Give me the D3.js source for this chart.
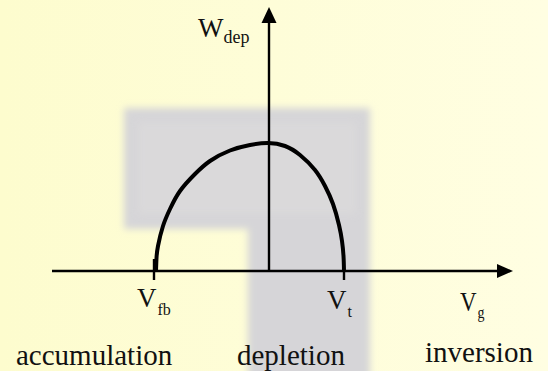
<!DOCTYPE html>
<html>
<head>
<meta charset="utf-8">
<script src="https://cdn.jsdelivr.net/npm/d3@7"></script>
<style>
  html, body { margin: 0; padding: 0; background: #fefdd6; }
  svg { display: block; }
</style>
</head>
<body>
<svg class="wdep" width="548" height="371"></svg>
<script>
// depletion width vs gate voltage (arbitrary units)
var leftVg  = [-11.3, -11.25, -11.1, -10.6, -9.9, -8.9, -7.4, -5.9, -3.9, -1.9, -0.1];
var leftW   = [0, 1.3, 2.5, 4.5, 6.2, 8.0, 9.7, 11.0, 12.05, 12.6, 12.8];
var rightVg = [1.6, 3.1, 4.6, 5.6, 6.4, 7.0, 7.3, 7.45, 7.5];
var rightW  = [12.5, 11.6, 10.1, 8.5, 6.7, 4.6, 3.0, 1.5, 0];

var markNames = ["fb", "t"];
var markVg = [-11.5, 7.5];
var regions = ["accumulation", "depletion", "inversion"];

var vgDomain = [-21.7, 24.4];
var wDomain = [0, 26.4];

var serif = "'Liberation Serif', 'Times New Roman', Times, serif";

var svg = d3.select("svg.wdep")
    .attr("font-family", serif);

// background + faded watermark
var defs = svg.append("defs");
var grad = defs.append("linearGradient").attr("id", "bg");
grad.append("stop").attr("offset", "0%").attr("stop-color", "#fdfcce");
grad.append("stop").attr("offset", "100%").attr("stop-color", "#fffee2");
defs.append("filter").attr("id", "blur")
    .attr("x", "-10%").attr("y", "-10%").attr("width", "120%").attr("height", "120%")
  .append("feGaussianBlur").attr("stdDeviation", 3.5);

svg.append("rect").attr("width", 548).attr("height", 371).attr("fill", "url(#bg)");
svg.append("path")
    .attr("d", "M124,108H370V380H248V229H124Z")
    .attr("fill", "#d6d5d8")
    .attr("filter", "url(#blur)");
svg.append("rect")
    .attr("x", 138).attr("y", 122).attr("width", 218).attr("height", 92)
    .attr("fill", "#dddcdc").attr("opacity", 0.6)
    .attr("filter", "url(#blur)");

// scales
var x = d3.scaleLinear().domain(vgDomain).range([52, 513]);
var y = d3.scaleLinear().domain(wDomain).range([271, 7]);

var pts = leftVg.map(function(v, i) { return [v, leftW[i]]; })
    .concat(rightVg.map(function(v, i) { return [v, rightW[i]]; }));

var line = d3.line()
    .x(function(d) { return x(d[0]); })
    .y(function(d) { return y(d[1]); })
    .curve(d3.curveNatural);

// axes
svg.append("line")
    .attr("x1", x(vgDomain[0])).attr("x2", x(vgDomain[1]) - 14)
    .attr("y1", y(0)).attr("y2", y(0))
    .attr("stroke", "#000").attr("stroke-width", 2.6);
svg.append("line")
    .attr("x1", x(0)).attr("x2", x(0))
    .attr("y1", y(0)).attr("y2", y(wDomain[1]) + 14)
    .attr("stroke", "#000").attr("stroke-width", 2.4);

// arrow heads
var xt = x(vgDomain[1]), yt = y(wDomain[1]);
svg.append("path")
    .attr("d", "M" + xt + "," + y(0) + "L" + (xt - 16) + "," + (y(0) - 7) + "L" + (xt - 16) + "," + (y(0) + 7) + "Z")
    .attr("fill", "#000");
svg.append("path")
    .attr("d", "M" + x(0) + "," + yt + "L" + (x(0) - 7.5) + "," + (yt + 16) + "L" + (x(0) + 7.5) + "," + (yt + 16) + "Z")
    .attr("fill", "#000");

// ticks at Vfb and Vt
svg.selectAll("line.tick")
    .data(markVg)
  .enter().append("line")
    .attr("class", "tick")
    .attr("x1", function(d) { return x(d); })
    .attr("x2", function(d) { return x(d); })
    .attr("y1", function(d, i) { return i == 0 ? y(0) - 12 : y(0); })
    .attr("y2", y(0) + 9)
    .attr("stroke", "#000").attr("stroke-width", 2.4);

// the curve
svg.append("path")
    .datum(pts)
    .attr("d", line)
    .attr("fill", "none")
    .attr("stroke", "#000")
    .attr("stroke-width", 4)
    .attr("stroke-linejoin", "round");

// V labels under the ticks
markNames.forEach(function(n, i) {
    var t = svg.append("text")
        .attr("x", x(markVg[i]) - 17)
        .attr("y", y(0) + 36 + i * 2)
        .attr("fill", "#111")
        .style("font-family", serif)
        .style("font-size", "27px");
    t.append("tspan").text("V");
    t.append("tspan").attr("dy", 8).attr("dx", 1).style("font-size", "16px").text(n);
});

// Vg label
var vg = svg.append("text")
    .attr("transform", "translate(460," + (y(0) + 40) + ") scale(0.82,1)")
    .attr("fill", "#111")
    .style("font-family", serif)
    .style("font-size", "28px");
vg.append("tspan").text("V");
vg.append("tspan").attr("dy", 7).attr("dx", 1).style("font-size", "17px").text("g");

// Wdep label
var wl = svg.append("text")
    .attr("x", x(0) - 71)
    .attr("y", 37)
    .attr("fill", "#111")
    .style("font-family", serif)
    .style("font-size", "27px");
wl.append("tspan").text("W");
wl.append("tspan").attr("dy", 6).style("font-size", "18px").text("dep");

// region names
var regionX = [16, 237, 425];
var regionY = [365, 365, 362];
svg.selectAll("text.region")
    .data(regions)
  .enter().append("text")
    .attr("class", "region")
    .attr("x", function(d, i) { return regionX[i]; })
    .attr("y", function(d, i) { return regionY[i]; })
    .attr("fill", "#111")
    .style("font-family", serif)
    .style("font-size", "29px")
    .text(function(d) { return d; });
</script>
</body>
</html>
